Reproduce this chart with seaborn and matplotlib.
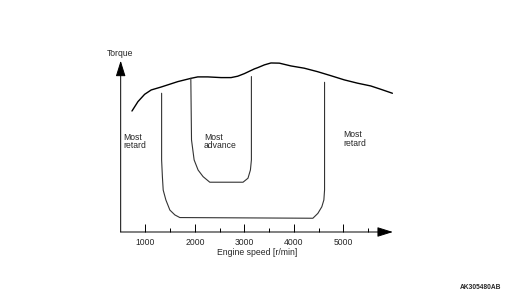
import matplotlib
matplotlib.use("Agg")
import matplotlib.pyplot as plt
import seaborn as sns
import pandas as pd

# Data (engine speed in r/min, torque in arbitrary units)
torque_rpm = [728, 849, 984, 1117, 1319, 1655, 1923, 2058, 2260, 2528, 2730, 2865,
              3000, 3201, 3268, 3403, 3536, 3705, 3939, 4209, 4478, 4746, 5016,
              5284, 5552, 5754, 5990]
torque_val = [69.5, 74.9, 79.1, 81.6, 83.3, 86.4, 88.3, 89.1, 89.1, 88.7, 88.7, 89.5,
              91.0, 93.7, 94.4, 96.0, 97.1, 97.0, 95.4, 94.1, 92.1, 89.8, 87.4,
              85.5, 83.9, 82.0, 79.7]

retard_rpm = [1327, 1327, 1343, 1359, 1413, 1494, 1595, 1695, 4383, 4484, 4564, 4605, 4619, 4619]
retard_val = [79.7, 41.4, 31.6, 24.1, 18.4, 12.6, 9.8, 8.3, 7.9, 10.7, 14.5, 18.4, 24.1, 86.0]

advance_rpm = [1917, 1931, 1984, 2064, 2165, 2300, 2972, 3072, 3121, 3141, 3141]
advance_val = [88.3, 52.9, 41.4, 35.6, 31.8, 28.6, 28.6, 30.9, 35.6, 41.4, 89.3]

major_ticks = [1000, 2000, 3000, 4000, 5000]
minor_ticks = [1500, 2500, 3500, 4500, 5500]
tick_labels = ["1000", "2000", "3000", "4000", "5000"]

sns.set_theme(style="white")
plt.rcParams['font.family'] = ['Liberation Sans', 'DejaVu Sans']

fig = plt.figure(figsize=(5.06, 2.93), dpi=100)
ax = fig.add_axes([0.2385, 0.2082, 0.538, 0.5846])

df_t = pd.DataFrame({"rpm": torque_rpm, "torque": torque_val})
df_r = pd.DataFrame({"rpm": retard_rpm, "torque": retard_val})
df_a = pd.DataFrame({"rpm": advance_rpm, "torque": advance_val})

sns.lineplot(data=df_t, x="rpm", y="torque", sort=False, estimator=None,
             color="black", lw=1.0, ax=ax, solid_joinstyle="round")
sns.lineplot(data=df_r, x="rpm", y="torque", sort=False, estimator=None,
             color="#333333", lw=0.8, ax=ax, solid_joinstyle="round")
sns.lineplot(data=df_a, x="rpm", y="torque", sort=False, estimator=None,
             color="#333333", lw=0.8, ax=ax, solid_joinstyle="round")

ax.set_xlim(500, 6000)
ax.set_ylim(0, 98.4)
for s in ax.spines.values():
    s.set_visible(False)

# axis arrows
ax.annotate("", xy=(1, 0), xytext=(0, 0), xycoords="axes fraction",
            arrowprops=dict(arrowstyle="-|>,head_length=0.8,head_width=0.25",
                            color="black", lw=0.7, shrinkA=0, shrinkB=0))
ax.annotate("", xy=(0, 1), xytext=(0, 0), xycoords="axes fraction",
            arrowprops=dict(arrowstyle="-|>,head_length=0.8,head_width=0.25",
                            color="black", lw=0.7, shrinkA=0, shrinkB=0))

ax.set_xticks(major_ticks)
ax.set_xticklabels(tick_labels, fontsize=6.2)
ax.set_xticks(minor_ticks, minor=True)
ax.tick_params(axis="x", which="major", direction="in", length=6, width=0.7,
               color="black", pad=4, bottom=True)
ax.tick_params(axis="x", which="minor", direction="in", length=3, width=0.7,
               color="black", bottom=True)
ax.set_yticks([])
ax.set_xlabel("Engine speed [r/min]", fontsize=6.2, labelpad=1)
ax.set_ylabel("")

fs = 6.2
ax.text(-0.003, 1.04, "Torque", transform=ax.transAxes, ha="center", va="center", fontsize=fs)
ax.text(560, 52, "Most\nretard", ha="left", va="center", fontsize=fs, linespacing=0.95)
ax.text(2180, 52, "Most\nadvance", ha="left", va="center", fontsize=fs, linespacing=0.95)
ax.text(5000, 53.5, "Most\nretard", ha="left", va="center", fontsize=fs, linespacing=0.95)

fig.text(0.991, 0.019, "AK305480AB", ha="right", va="center", fontsize=4.8, fontweight="bold")

fig.savefig("out.png", dpi=100, facecolor="white")
